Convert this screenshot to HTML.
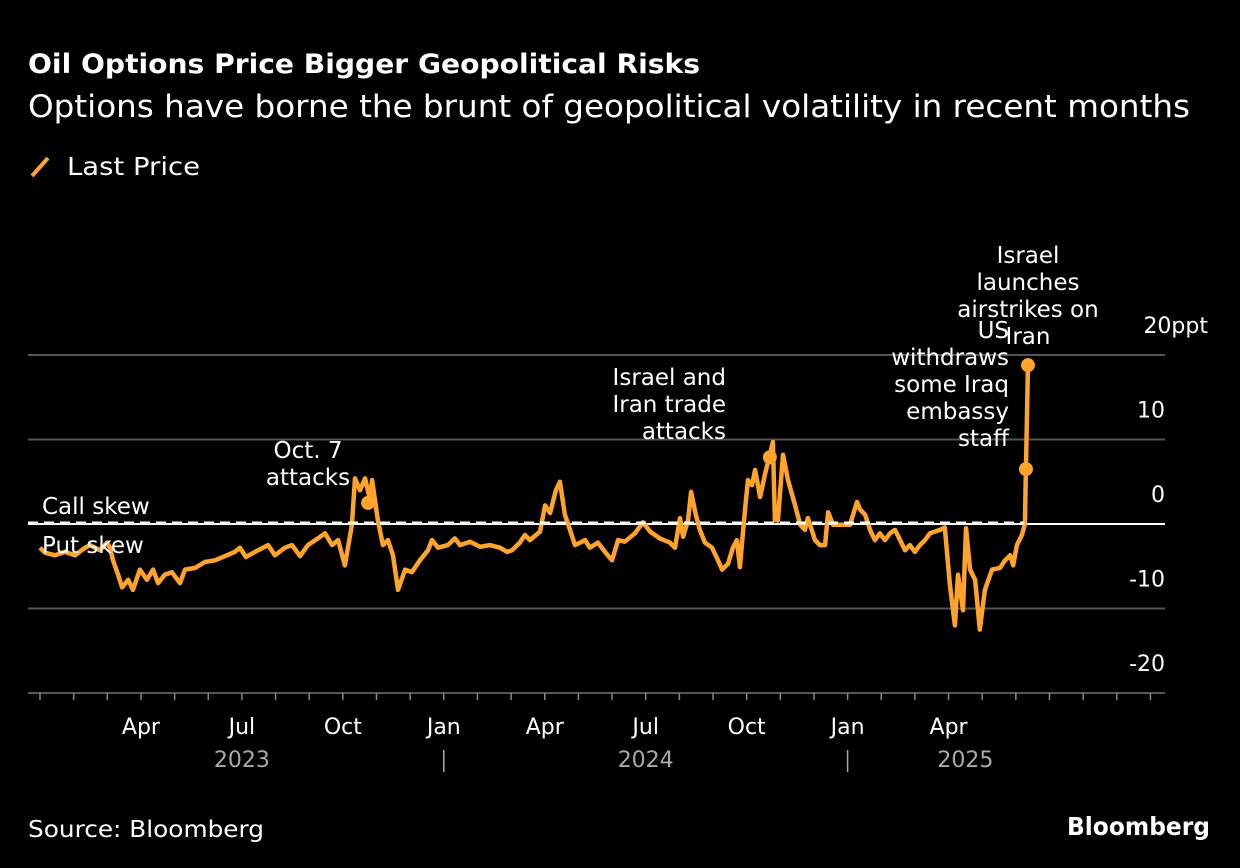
<!DOCTYPE html>
<html><head><meta charset="utf-8"><style>
body{margin:0;background:#000;width:1240px;height:868px;overflow:hidden;font-family:"DejaVu Sans","Liberation Sans",sans-serif;color:#fff}
svg text{font-family:"DejaVu Sans","Liberation Sans",sans-serif}
</style></head><body>
<svg width="1240" height="868" style="position:absolute;left:0;top:0">
<text x="28" y="73" font-size="27" font-weight="bold" fill="#fff" textLength="672" lengthAdjust="spacingAndGlyphs">Oil Options Price Bigger Geopolitical Risks</text>
<text x="28" y="117" font-size="31" fill="#fff" textLength="1162" lengthAdjust="spacingAndGlyphs">Options have borne the brunt of geopolitical volatility in recent months</text>
<g><line x1="32" y1="176" x2="48" y2="158" stroke="#ffa32b" stroke-width="4"/><text x="67" y="175" font-size="25" fill="#fff" textLength="133" lengthAdjust="spacingAndGlyphs">Last Price</text></g>
<g id="grid"></g><g id="axes"></g><g id="series"></g><g id="annot"></g>
<text x="28" y="837" font-size="23" fill="#fff" textLength="236" lengthAdjust="spacingAndGlyphs">Source: Bloomberg</text>
<text x="1067" y="835" font-size="25" font-weight="bold" fill="#fff" textLength="143" lengthAdjust="spacingAndGlyphs">Bloomberg</text>
</svg>
<script>
const months=[0,0.15,0.45,0.74,1.04,1.34,1.49,1.78,1.99,2.08,2.17,2.32,2.44,2.62,2.76,2.97,3.18,3.36,3.51,3.71,3.92,4.16,4.31,4.61,4.90,5.20,5.50,5.79,5.94,6.12,6.48,6.78,6.98,7.28,7.49,7.73,7.96,8.26,8.47,8.68,8.86,9.06,9.27,9.36,9.51,9.66,9.81,9.87,10.04,10.19,10.34,10.49,10.64,10.85,11.05,11.29,11.53,11.65,11.83,12.12,
12.33,12.48,12.78,13.08,13.37,13.67,13.88,14.03,14.26,14.41,14.56,14.86,15.01,15.16,15.33,15.45,15.60,15.75,15.90,16.20,16.34,16.58,16.79,17.00,17.18,17.38,17.68,17.92,18.13,18.42,18.72,18.87,19.02,19.11,19.26,19.35,19.49,19.61,19.76,19.97,20.15,20.27,20.45,20.59,20.71,20.80,20.95,21.04,21.16,21.25,21.40,21.55,21.69,21.78,21.84,21.93,22.08,22.23,22.44,22.59,22.73,22.82,23.03,23.18,23.33,23.42,23.57,23.77,24.07,
24.28,24.37,24.52,24.67,24.81,24.96,25.11,25.26,25.41,25.56,25.71,25.85,26.00,26.15,26.30,26.45,26.75,26.89,27.04,27.19,27.28,27.43,27.52,27.64,27.79,27.93,28.08,28.29,28.53,28.68,28.83,28.92,29.03,29.18,29.27,29.30,29.36];
const values=[-2.8,-3.4,-3.7,-3.3,-3.7,-2.8,-2.5,-3.1,-2.2,-2.8,-4.3,-6.0,-7.5,-6.6,-7.8,-5.4,-6.6,-5.4,-7.0,-6.0,-5.7,-7.0,-5.4,-5.2,-4.5,-4.3,-3.8,-3.3,-2.8,-3.9,-3.1,-2.5,-3.7,-2.8,-2.5,-3.8,-2.5,-1.7,-1.1,-2.5,-1.9,-4.9,-0.1,5.4,4.0,5.4,2.8,5.2,0.5,-2.5,-1.9,-3.7,-7.8,-5.4,-5.7,-4.3,-3.1,-1.9,-2.8,-2.5,
-1.7,-2.5,-2.1,-2.7,-2.5,-2.8,-3.3,-3.1,-2.2,-1.3,-1.9,-0.9,2.2,1.3,4.0,5.0,1.1,-0.7,-2.5,-1.9,-2.8,-2.2,-3.3,-4.3,-1.9,-2.1,-1.1,0.2,-0.9,-1.7,-2.2,-2.8,0.7,-1.5,0.5,3.8,1.1,-0.7,-2.2,-2.8,-4.3,-5.4,-4.7,-2.8,-1.9,-5.1,1.7,5.2,4.6,6.4,3.2,6.0,8.2,9.7,0.5,0.4,8.2,5.2,2.2,-0.1,-0.7,0.7,-1.9,-2.5,-2.5,1.4,-0.1,-0.1,-0.1,
2.6,1.7,1.1,-0.7,-1.9,-1.1,-1.9,-1.1,-0.7,-1.9,-3.1,-2.5,-3.3,-2.5,-1.9,-1.1,-0.7,-0.4,-7.2,-12.0,-6.0,-10.2,-0.5,-5.4,-6.6,-12.5,-7.8,-5.4,-5.2,-4.3,-3.7,-4.9,-2.5,-1.3,0,6.4,18.9];
const yTicks=[20,10,0,-10,-20];
const yTickLabels=["20ppt","10","0","-10","-20"];
const xLabels=["Apr","Jul","Oct","Jan","Apr","Jul","Oct","Jan","Apr"];
const xLabelMonths=[3,6,9,12,15,18,21,24,27];
const years=["2023","2024","2025"];
const yearMonths=[6,18,27.5];
const annMonths=[9.75,21.69,29.30,29.36];
const annValues=[2.5,7.9,6.5,18.8];
const NS="http://www.w3.org/2000/svg";
const X=m=>40+m*33.65, Y=v=>524-v*8.45;
function mk(p,t,a){const e=document.createElementNS(NS,t);for(const k in a)e.setAttribute(k,a[k]);p.appendChild(e);return e;}
const grid=document.getElementById('grid'),axes=document.getElementById('axes'),ser=document.getElementById('series'),ann=document.getElementById('annot');
yTicks.forEach((v,i)=>{
  if(v!==0){const l=mk(grid,'line',{x1:28,x2:1165,y1:Y(v),y2:Y(v),stroke:'#555','stroke-width':2});
  
  }
  const t=mk(axes,'text',{x:i==0?1208:1165,y:Y(v)-22,'font-size':22,fill:'#fff','text-anchor':'end'});t.textContent=yTickLabels[i];
  
  
});
for(let m=0;m<=33;m++){const l=mk(axes,'line',{x1:X(m),x2:X(m),y1:693,y2:700,stroke:'#888','stroke-width':1.5});
  
  }
xLabels.forEach((s,i)=>{const t=mk(axes,'text',{x:X(xLabelMonths[i]),y:734,'font-size':22,fill:'#fff','text-anchor':'middle'});t.textContent=s;
  
  });
years.forEach((s,i)=>{const t=mk(axes,'text',{x:X(yearMonths[i]),y:767,'font-size':22,fill:'#aaa','text-anchor':'middle'});t.textContent=s;
  
  });
[12,24].forEach(m=>{const l=mk(axes,'line',{x1:X(m),x2:X(m),y1:750,y2:772,stroke:'#aaa','stroke-width':1.5});
  
  });
const z1=mk(grid,'line',{x1:28,x2:1165,y1:Y(0),y2:Y(0),stroke:'#fff','stroke-width':2});


let d='';months.forEach((m,i)=>{d+=(i?'L':'M')+X(m).toFixed(1)+','+Y(values[i]).toFixed(1);});
const p=mk(ser,'path',{d:d,fill:'none',stroke:'#ffa32b','stroke-width':4.5,'stroke-linejoin':'round'});


const z2=mk(ser,'line',{x1:28,x2:X(29.25),y1:Y(0)-1,y2:Y(0)-1,stroke:'#fff','stroke-width':3,'stroke-dasharray':'10,6'});


annMonths.forEach((m,i)=>{const c=mk(ann,'circle',{cx:X(m),cy:Y(annValues[i]),r:7,fill:'#ffa32b'});
  
  });
function txt(lines,x,y,anchor,name){const t=mk(ann,'text',{x:x,y:y,'font-size':23,fill:'#fff','text-anchor':anchor});
  
  
  lines.forEach((s,i)=>{const ts=mk(t,'tspan',{x:x,dy:i?27:0});ts.textContent=s;});}
txt(["Oct. 7","attacks"],308,458,'middle','annotation-oct7');
txt(["Israel and","Iran trade","attacks"],726,385,'end','annotation-israel-iran');
txt(["US","withdraws","some Iraq","embassy","staff"],1009,338,'end','annotation-us-withdraws');
txt(["Israel","launches","airstrikes on","Iran"],1028,263,'middle','annotation-israel-strikes');
txt(["Call skew"],42,514,'start','call-skew-label');
txt(["Put skew"],42,553,'start','put-skew-label');
</script>
</body></html>
